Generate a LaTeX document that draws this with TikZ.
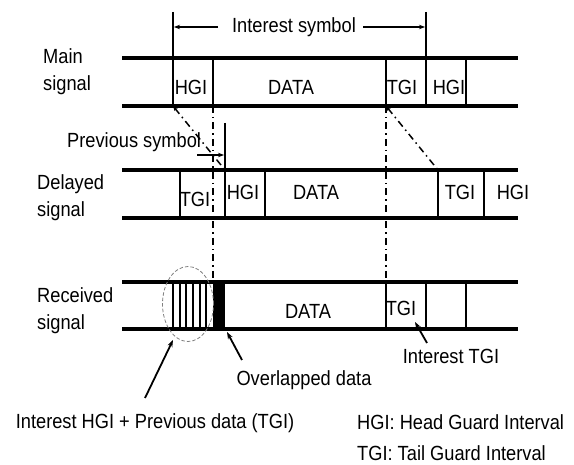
\documentclass[tikz,border=0pt]{standalone}
\usepackage{fontspec}
\setmainfont{Liberation Sans}[FakeStretch=0.89]
\usetikzlibrary{arrows.meta}

\begin{document}
\begin{tikzpicture}[
  x=1pt, y=-1pt,
  font=\fontsize{20.5}{27}\selectfont,
  >={Stealth[length=7pt,width=5pt]},
  rail/.style={line width=3.1pt},
  cell/.style={line width=2.1pt},
  hatch/.style={line width=1.9pt},
  guide/.style={line width=1.5pt, dash pattern=on 7pt off 4pt on 1.5pt off 4pt},
  tag/.style={inner sep=0pt, anchor=base},
  side/.style={inner sep=0pt, anchor=base west, align=left},
  pointer/.style={->, line width=1.8pt},
  span/.style={->, line width=1.2pt, >={Stealth[length=6pt,width=4.5pt]}}
]
  \useasboundingbox (0,0) rectangle (574,465);

  % signal strips
  \foreach \yt/\yb in {58/106, 170/218, 282/329}
    \draw[rail] (122,\yt) -- (518,\yt) (122,\yb) -- (518,\yb);

  % main signal
  \coordinate (mainHGI) at (173,106);
  \coordinate (mainTGI) at (386,106);
  \draw[cell] (173,12) -- (mainHGI);
  \draw[cell] (426,12) -- (426,106);
  \foreach \x in {213,386,466}
    \draw[cell] (\x,58) -- (\x,106);
  \node[tag] (mHGI) at (191,95) {HGI};
  \node[tag] (mDATA) at (291,95) {DATA};
  \node[tag] (mTGI) at (402,95) {TGI};
  \node[tag] (mHGI2) at (449,95) {HGI};

  % delayed signal
  \coordinate (delHGI) at (225,170);
  \coordinate (delTGI) at (438,170);
  \draw[cell] (225,123) -- (225,218);
  \foreach \x in {180,265,438,484}
    \draw[cell] (\x,170) -- (\x,218);
  \node[tag] (dTGI) at (195,207) {TGI};
  \node[tag] (dHGI) at (243,200) {HGI};
  \node[tag] (dDATA) at (316,200) {DATA};
  \node[tag] (dTGI2) at (460,200) {TGI};
  \node[tag] (dHGI2) at (513,200) {HGI};

  % received signal
  \foreach \x in {173,179.7,186.3,193,199.7,206.3}
    \draw[hatch] (\x,282) -- (\x,329);
  \fill (213,282) rectangle (225,329);
  \foreach \x in {386,426,466}
    \draw[cell] (\x,282) -- (\x,329);
  \node[tag] (rDATA) at (308,319) {DATA};
  \node[tag] (rTGI) at (401,316) {TGI};
  \draw[gray, line width=0.8pt, dash pattern=on 3.5pt off 2pt]
    (188,304) ellipse [x radius=25.5pt, y radius=37.5pt];

  % delay guides
  \draw[guide, {Stealth[length=5pt,width=4pt]}-] (mainHGI) -- (delHGI);
  \draw[guide, {Stealth[length=5pt,width=4pt]}-] (mainTGI) -- (delTGI);
  \draw[guide] (213,106) -- (213,278);
  \draw[guide] (mainTGI) -- (386,278);

  % interest symbol
  \node[tag] (isym) at (294,33) {Interest symbol};
  \draw[span] (218,27) -- (174,27);
  \draw[span] (363,27) -- (425,27);

  % previous symbol
  \node[tag, anchor=base west] (psym) at (67,148) {Previous symbol};
  \coordinate (psymTail) at (197,155);
  \draw[span] (psymTail) -- (224,155);

  % side labels
  \node[side] (lMain) at (43,91) {Main\\signal};
  \node[side] (lDel) at (37,217) {Delayed\\signal};
  \node[side] (lRec) at (37,330) {Received\\signal};

  % callouts
  \node[tag] (cHGI) at (155,429) {Interest HGI + Previous data (TGI)};
  \node[tag] (cOver) at (304,386) {Overlapped data};
  \node[tag] (cTGI) at (451,364) {Interest TGI};
  \coordinate (cHGItail) at (145,398);
  \coordinate (cOvertail) at (242,360);
  \coordinate (cTGItail) at (427,343);
  \draw[pointer] (cHGItail) -- (173,340);
  \draw[pointer] (cOvertail) -- (227,332);
  \draw[pointer] (cTGItail) -- (415,322);

  % legend
  \node[tag, anchor=base west] (legH) at (357,430) {HGI: Head Guard Interval};
  \node[tag, anchor=base west] (legT) at (357,461) {TGI: Tail Guard Interval};
\end{tikzpicture}
\end{document}
